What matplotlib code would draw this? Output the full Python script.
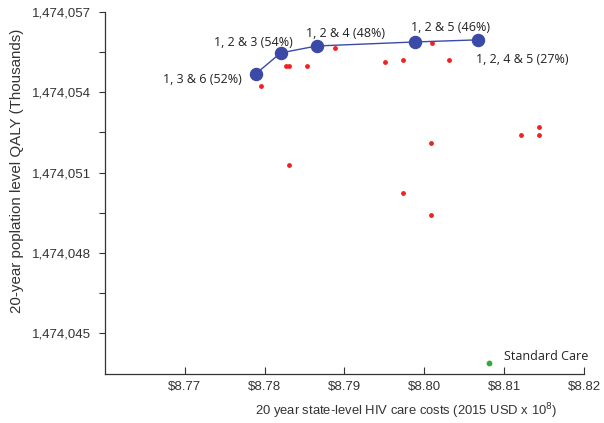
import numpy as np
import matplotlib.pyplot as plt
from matplotlib.ticker import FuncFormatter, FixedLocator

# Efficient frontier strategies (cost in USD x 10^8, QALY in thousands)
front_cost = [8.7789, 8.7820, 8.7865, 8.7988, 8.80675]
front_qaly = [1474054.69, 1474055.47, 1474055.73, 1474055.88, 1474055.96]
front_labels = ['1, 3 & 6 (52%)', '1, 2 & 3 (54%)', '1, 2 & 4 (48%)',
                '1, 2 & 5 (46%)', '1, 2, 4 & 5 (27%)']

# Dominated strategies
other_cost = [8.7796, 8.7827, 8.7831, 8.78525, 8.78879, 8.79509, 8.79738,
              8.8010, 8.80313, 8.81209, 8.81434, 8.81434, 8.80084, 8.7830,
              8.79738, 8.80084]
other_qaly = [1474054.22, 1474055.00, 1474055.00, 1474055.00, 1474055.67,
              1474055.15, 1474055.19, 1474055.83, 1474055.22, 1474052.40,
              1474052.71, 1474052.40, 1474052.09, 1474051.29, 1474050.24,
              1474049.43]

# Standard care
std_cost = 8.80809
std_qaly = 1474043.89

fig = plt.figure(figsize=(6.04, 4.23), dpi=100)
ax = fig.add_axes([0.1738, 0.1158, 0.7931, 0.8558])

ax.scatter(other_cost, other_qaly, s=6, color='#ee2222', zorder=2)
ax.scatter([std_cost], [std_qaly], s=10, color='#33aa33', zorder=2)
ax.plot(front_cost, front_qaly, '-', color='#3b4aa6', lw=1, zorder=3)
ax.scatter(front_cost, front_qaly, s=75, color='#3b4aa6', zorder=4)

lab_font = dict(family='Open Sans', fontsize=9, color='#222222')
# label offsets in pixels from each frontier point
offsets = [(-14, -6, 'right', 'center'), (-27, 10, 'center', 'center'),
           (29, 12, 'center', 'center'), (36, 14, 'center', 'center'),
           (-2, -20, 'left', 'center')]
for xc, yc, lab, (dx, dy, ha, va) in zip(front_cost, front_qaly, front_labels, offsets):
    ax.annotate(lab, (xc, yc), xytext=(dx, dy), textcoords='offset pixels',
                ha=ha, va=va, **lab_font)
ax.annotate('Standard Care', (std_cost, std_qaly), xytext=(15, 6),
            textcoords='offset pixels', ha='left', va='center', **lab_font)

ax.set_xlim(8.76, 8.82)
ax.set_ylim(1474043.47, 1474057)

ax.set_xticks([8.77, 8.78, 8.79, 8.80, 8.81, 8.82])
ax.xaxis.set_major_formatter(FuncFormatter(lambda v, p: f'${v:.2f}'))
ax.set_yticks([1474045, 1474048, 1474051, 1474054, 1474057])
ax.yaxis.set_minor_locator(FixedLocator([1474046.5, 1474049.5, 1474052.5, 1474055.5]))
ax.yaxis.set_major_formatter(FuncFormatter(lambda v, p: f'{v:,.0f}'))

ax.tick_params(axis='x', direction='in', length=5, width=0.8, colors='#333333',
               labelsize=9.5, pad=5)
ax.tick_params(axis='y', which='both', direction='out', length=4, width=0.8,
               colors='#333333', labelsize=9.5, pad=6)
for lbl in ax.get_xticklabels() + ax.get_yticklabels():
    lbl.set_fontfamily('Liberation Sans')

for side in ['top', 'right']:
    ax.spines[side].set_visible(False)
for side in ['left', 'bottom']:
    ax.spines[side].set_color('#333333')
    ax.spines[side].set_linewidth(0.9)

ax.set_xlabel('20 year state-level HIV care costs (2015 USD x 10$^8$)',
              family='Liberation Sans', fontsize=9.4, color='#333333')
ax.xaxis.set_label_coords(0.628, -0.077)
ax.set_ylabel('20-year poplation level QALY (Thousands)',
              family='Liberation Sans', fontsize=10.9, color='#333333')
ax.yaxis.set_label_coords(-0.17, 0.561)

fig.savefig('out.png', dpi=100)
